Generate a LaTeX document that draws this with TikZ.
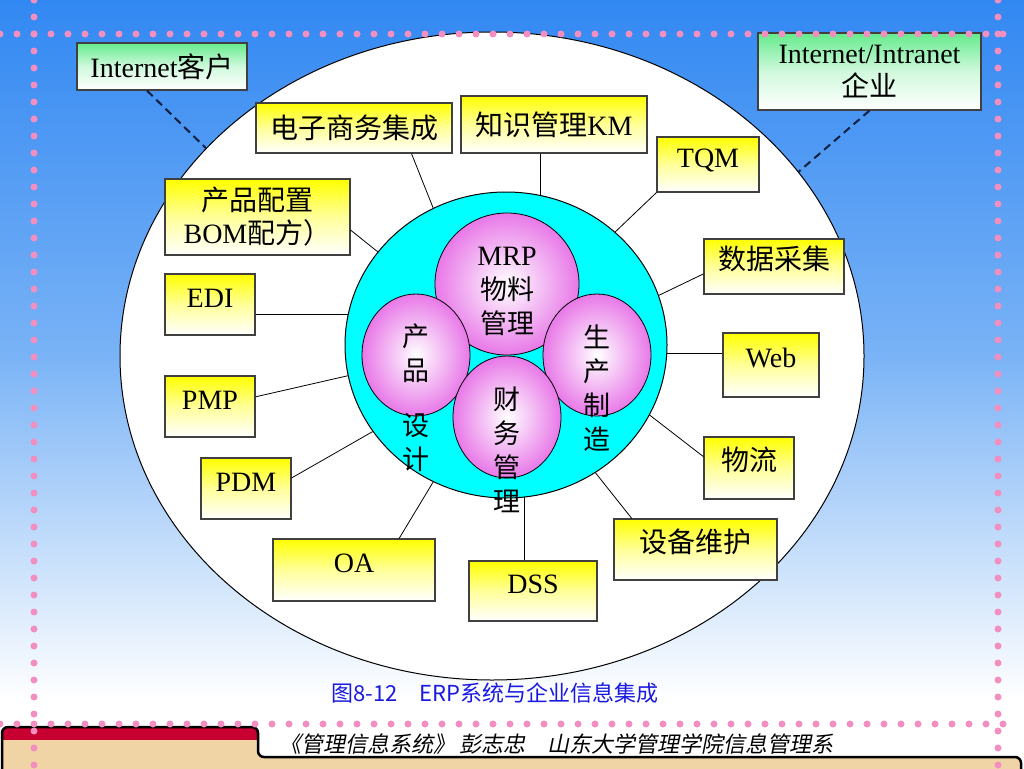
\documentclass[tikz,border=0pt]{standalone}
\usepackage{fontspec}
\setmainfont{Liberation Serif}
\newfontfamily\zh{Noto Sans CJK SC}
\newfontfamily\zhkai{Noto Sans CJK SC}[FakeSlant=0.2]
\usetikzlibrary{positioning,shapes.geometric}

\definecolor{skytop}{RGB}{50,136,242}
\definecolor{skymid}{RGB}{120,178,246}
\definecolor{coreblue}{RGB}{0,255,255}
\definecolor{ballpink}{RGB}{232,120,232}
\definecolor{boxyellow}{RGB}{255,255,0}
\definecolor{boxgreen}{RGB}{100,235,140}
\definecolor{edgegray}{RGB}{64,64,64}
\definecolor{dashnavy}{RGB}{16,32,64}
\definecolor{dotpink}{RGB}{243,143,192}
\definecolor{capblue}{RGB}{25,25,225}
\definecolor{footred}{RGB}{200,0,50}
\definecolor{foottan}{RGB}{240,212,165}

\tikzset{
  box/.style={draw=edgegray, line width=1.2pt, top color=boxyellow, bottom color=white,
    middle color=boxyellow!40, inner sep=0pt, font=\fontsize{28}{33}\selectfont},
  raised/.style={text height=21pt, text depth=16pt},
  netbox/.style={box, top color=boxgreen, bottom color=white, middle color=boxgreen!30},
  ball/.style={ellipse, draw, line width=0.8pt, inner color=white, outer color=ballpink, inner sep=0pt},
  vtext/.style={align=center, inner sep=0pt, font=\zh\fontsize{27}{34}\selectfont},
  link/.style={line width=0.8pt},
  netlink/.style={draw=dashnavy, line width=2pt, dash pattern=on 8pt off 5pt},
  dot/.style={fill=dotpink}
}

\begin{document}
\begin{tikzpicture}[x=1pt, y=-1pt]
\useasboundingbox (0,0) rectangle (1024,768);

\shade[top color=skytop, bottom color=white, middle color=skymid] (0,0) rectangle (1024,700);
\fill[white] (0,700) rectangle (1024,768);

\node[ellipse, draw, fill=white, line width=1pt, minimum width=744pt, minimum height=648pt] (plane) at (492,356) {};
\node[ellipse, draw, fill=coreblue, line width=1pt, minimum width=322pt, minimum height=306pt] (core) at (506,345) {};

\node[ball, minimum width=144pt, minimum height=142pt] (mrp) at (507,284) {};
\node[ball, minimum width=108pt, minimum height=122pt] (design) at (416,355) {};
\node[ball, minimum width=108pt, minimum height=122pt] (make) at (597,355) {};
\node[ball, minimum width=108pt, minimum height=122pt] (finance) at (507,417) {};

\node[vtext] (mrptext) at (507,291) {{\rmfamily\fontsize{28}{34}\selectfont MRP}\\物料\\管理};
\node[vtext] (designtop) at (416,353.5) {产\\品};
\node[vtext] (designlow) at (416,442.5) {设\\计};
\node[vtext] (maketext) at (597,388) {生\\产\\制\\造};
\node[vtext] (financetext) at (507,449.5) {财\\务\\管\\理};

\node[box, minimum width=196pt, minimum height=50pt] (ecom) at (354,128) {\zh 电子商务集成};
\node[box, minimum width=186pt, minimum height=57pt] (km) at (554,124.5) {{\zh 知识管理}KM};
\node[box, raised, minimum width=102pt, minimum height=55pt] (tqm) at (708,164.5) {TQM};
\node[box, raised, minimum width=140pt, minimum height=55pt] (collect) at (774,266.5) {\zh 数据采集};
\node[box, raised, minimum width=96pt, minimum height=64pt] (web) at (771,365) {Web};
\node[box, raised, minimum width=90pt, minimum height=62pt] (logi) at (749,468) {\zh 物流};
\node[box, raised, minimum width=163pt, minimum height=61pt] (maint) at (695.5,549.5) {\zh 设备维护};
\node[box, raised, minimum width=128pt, minimum height=60pt] (dss) at (533,591) {DSS};
\node[box, raised, minimum width=162pt, minimum height=62pt] (oa) at (354,570) {OA};
\node[box, raised, minimum width=90pt, minimum height=61pt] (pdm) at (246,488.5) {PDM};
\node[box, raised, minimum width=90pt, minimum height=61pt] (pmp) at (210,406.5) {PMP};
\node[box, raised, minimum width=90pt, minimum height=61pt] (edi) at (210,304.5) {EDI};
\node[box, align=center, minimum width=185pt, minimum height=76pt] (bom) at (257.5,217) {{\zh 产品配置}\\BOM{\zh 配方）}};
\node[netbox, minimum width=170pt, minimum height=47pt] (client) at (162,66.5) {Internet{\zh 客户}};
\node[netbox, align=center, minimum width=223pt, minimum height=77pt] (firm) at (869.5,71.5) {Internet/Intranet\\{\zh 企业}};

\draw[link] (ecom.-24.4) -- (core.118);
\draw[link] (core.77) -- (core.77 |- km.south);
\draw[link] (tqm.south west) -- (core.46);
\draw[link] (collect.186) -- (core.18);
\draw[link] (core.-3) -- (core.-3 -| web.west);
\draw[link] (core.-26.4) -- (logi.166);
\draw[link] (core.-55.6) -- (maint.154);
\draw[link] (core.-83) -- (core.-83 |- dss.north);
\draw[link] (core.-118.4) -- (oa.35);
\draw[link] (core.-147) -- (pdm.13);
\draw[link] (core.-169) -- (pmp.12);
\draw[link] (core.169) -- (core.169 -| edi.east);
\draw[link] (bom.-8) -- (core.144);

\draw[netlink] (client.-122.5) -- (plane.144.8);
\draw[netlink] (firm.south) -- (plane.31.5);

\node[text=capblue, font=\zh\fontsize{22}{26}\selectfont] (caption) at (495,693) {图8-12\hspace{1em}ERP系统与企业信息集成};

\begin{scope}
\clip[rounded corners=6pt] (2,775) -- (2,727) -- (258,727) -- (258,757) -- (1021,757) -- (1021,775) -- cycle;
\fill[foottan] (0,720) rectangle (1024,775);
\fill[footred] (0,720) rectangle (260,740);
\end{scope}
\draw[line width=2.5pt, rounded corners=6pt] (2,775) -- (2,727) -- (258,727) -- (258,757) -- (1021,757) -- (1021,775);
\node[anchor=west, font=\zhkai\fontsize{22}{26}\selectfont] (credit) at (276,744) {《管理信息系统》\,彭志忠\hspace{1em}山东大学管理学院信息管理系};

\foreach \x in {0,17,...,1010} {
  \fill[dot] (\x,34) circle (3.5pt);
  \fill[dot] (\x,724) circle (3.5pt);
}
\foreach \y in {0,17,...,765} {
  \fill[dot] (34,\y) circle (3.5pt);
  \fill[dot] (998,\y) circle (3.5pt);
}
\end{tikzpicture}
\end{document}
